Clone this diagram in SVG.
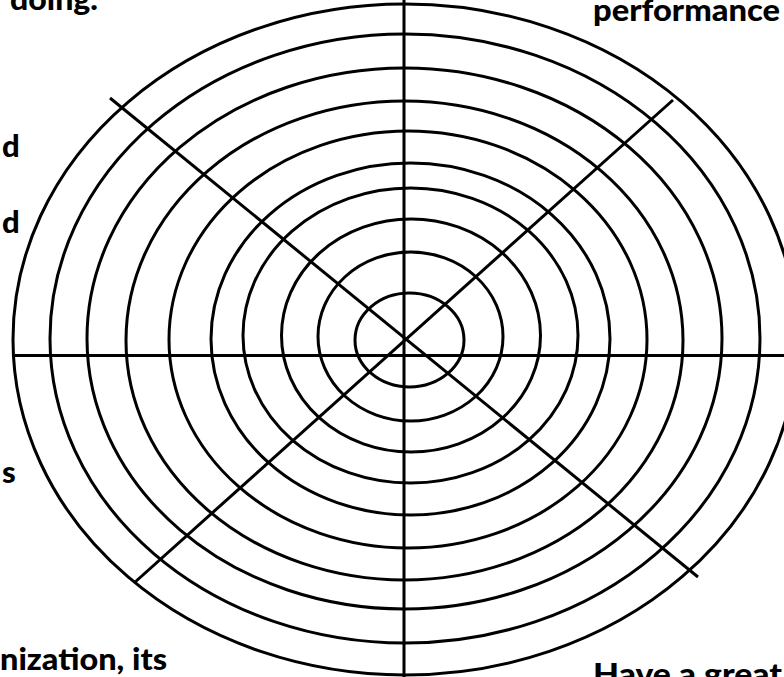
<svg xmlns="http://www.w3.org/2000/svg" width="784" height="677" viewBox="0 0 784 677">
<style>
.ring{fill:none;stroke:#000;stroke-width:3}
.spoke{stroke:#000;stroke-width:3;fill:none}
.t{font-family:Lato,"Open Sans","Liberation Sans",sans-serif;font-weight:900;font-size:31px;fill:#000}
</style>
<rect width="784" height="677" fill="#fff"/>
<g id="rings">
<ellipse class="ring" cx="409.5" cy="340" rx="54.5" ry="47"/>
<ellipse class="ring" cx="410.5" cy="336.5" rx="92.5" ry="84.5"/>
<ellipse class="ring" cx="411" cy="335.5" rx="129.5" ry="116.5"/>
<ellipse class="ring" cx="410.5" cy="335.5" rx="167.5" ry="147.5"/>
<ellipse class="ring" cx="410.5" cy="339" rx="199.5" ry="176"/>
<ellipse class="ring" cx="408" cy="339.5" rx="239" ry="208.5"/>
<ellipse class="ring" cx="404.5" cy="340.5" rx="278.5" ry="239.5"/>
<ellipse class="ring" cx="404.5" cy="338.5" rx="317.5" ry="270.5"/>
<ellipse class="ring" cx="405" cy="338.5" rx="355" ry="304.5"/>
<ellipse class="ring" cx="405" cy="339.5" rx="392" ry="335.5"/>
</g>
<g id="spokes">
<line class="spoke" x1="404" y1="0" x2="404" y2="677"/>
<line class="spoke" x1="12" y1="355.5" x2="784" y2="355.5"/>
<line class="spoke" x1="110" y1="98" x2="698" y2="577"/>
<line class="spoke" x1="673" y1="100" x2="134" y2="583"/>
</g>
<g id="labels">
<text class="t" x="10" y="10" textLength="88" lengthAdjust="spacingAndGlyphs">doing.</text>
<text class="t" x="593" y="21" textLength="187" lengthAdjust="spacingAndGlyphs">performance</text>
<text class="t" x="2" y="157">d</text>
<text class="t" x="2" y="233">d</text>
<text class="t" x="2" y="483">s</text>
<text class="t" x="0" y="670" textLength="167" lengthAdjust="spacingAndGlyphs">nization, its</text>
<text class="t" x="593" y="685" textLength="189" lengthAdjust="spacingAndGlyphs">Have a great</text>
</g>
</svg>
